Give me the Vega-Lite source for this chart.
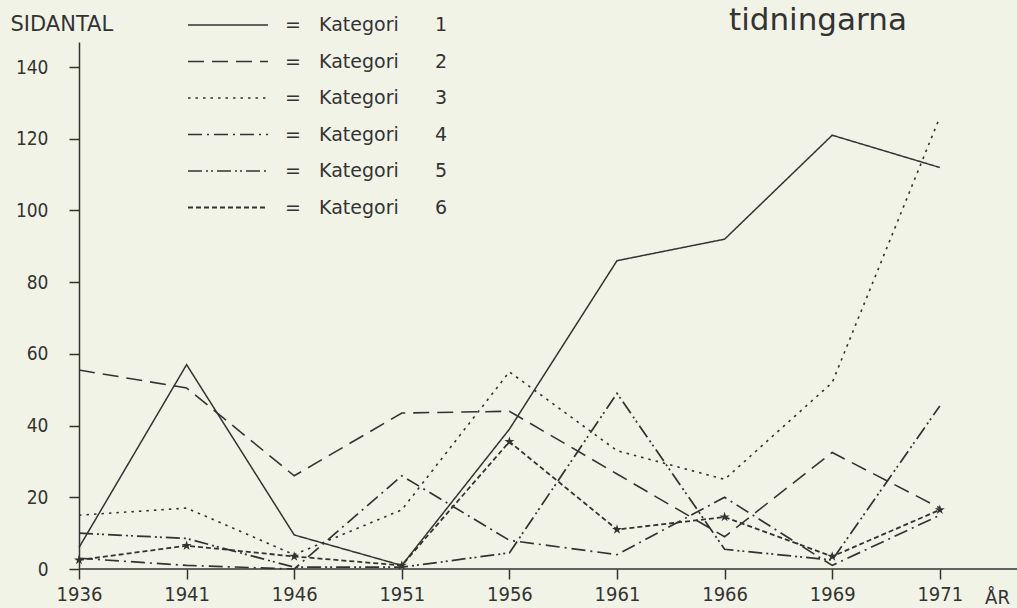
{
  "$schema": "https://vega.github.io/schema/vega-lite/v6.json",
  "width": 938,
  "height": 527,
  "autosize": {"type": "none"},
  "padding": {"left": 79, "top": 42, "right": 0, "bottom": 39},
  "background": "#f2f3e7",
  "config": {"view": {"stroke": null}, "font": "DejaVu Sans"},
  "title": {"text": "tidningarna", "anchor": "start", "dx": 719, "dy": 34, "fontSize": 31, "fontWeight": "normal", "color": "#333333", "font": "DejaVu Sans"},
  "data": {"values": [
    {"year": "1936", "kategori": "1", "sidor": 6},
    {"year": "1941", "kategori": "1", "sidor": 57},
    {"year": "1946", "kategori": "1", "sidor": 9.5},
    {"year": "1951", "kategori": "1", "sidor": 1},
    {"year": "1956", "kategori": "1", "sidor": 39},
    {"year": "1961", "kategori": "1", "sidor": 86},
    {"year": "1966", "kategori": "1", "sidor": 92},
    {"year": "1969", "kategori": "1", "sidor": 121},
    {"year": "1971", "kategori": "1", "sidor": 112},
    {"year": "1936", "kategori": "2", "sidor": 55.5},
    {"year": "1941", "kategori": "2", "sidor": 50.5},
    {"year": "1946", "kategori": "2", "sidor": 26},
    {"year": "1951", "kategori": "2", "sidor": 43.5},
    {"year": "1956", "kategori": "2", "sidor": 44},
    {"year": "1961", "kategori": "2", "sidor": 26.5},
    {"year": "1966", "kategori": "2", "sidor": 9},
    {"year": "1969", "kategori": "2", "sidor": 32.5},
    {"year": "1971", "kategori": "2", "sidor": 17},
    {"year": "1936", "kategori": "3", "sidor": 15},
    {"year": "1941", "kategori": "3", "sidor": 17},
    {"year": "1946", "kategori": "3", "sidor": 4},
    {"year": "1951", "kategori": "3", "sidor": 16.5},
    {"year": "1956", "kategori": "3", "sidor": 55},
    {"year": "1961", "kategori": "3", "sidor": 33},
    {"year": "1966", "kategori": "3", "sidor": 25},
    {"year": "1969", "kategori": "3", "sidor": 52},
    {"year": "1971", "kategori": "3", "sidor": 126},
    {"year": "1936", "kategori": "4", "sidor": 3},
    {"year": "1941", "kategori": "4", "sidor": 1},
    {"year": "1946", "kategori": "4", "sidor": 0},
    {"year": "1951", "kategori": "4", "sidor": 26},
    {"year": "1956", "kategori": "4", "sidor": 8},
    {"year": "1961", "kategori": "4", "sidor": 4},
    {"year": "1966", "kategori": "4", "sidor": 20},
    {"year": "1969", "kategori": "4", "sidor": 1},
    {"year": "1971", "kategori": "4", "sidor": 15},
    {"year": "1936", "kategori": "5", "sidor": 10},
    {"year": "1941", "kategori": "5", "sidor": 8.5},
    {"year": "1946", "kategori": "5", "sidor": 0.5},
    {"year": "1951", "kategori": "5", "sidor": 0.5},
    {"year": "1956", "kategori": "5", "sidor": 4.5},
    {"year": "1961", "kategori": "5", "sidor": 49},
    {"year": "1966", "kategori": "5", "sidor": 5.5},
    {"year": "1969", "kategori": "5", "sidor": 2.5},
    {"year": "1971", "kategori": "5", "sidor": 45.5},
    {"year": "1936", "kategori": "6", "sidor": 2.5},
    {"year": "1941", "kategori": "6", "sidor": 6.5},
    {"year": "1946", "kategori": "6", "sidor": 3.5},
    {"year": "1951", "kategori": "6", "sidor": 1},
    {"year": "1956", "kategori": "6", "sidor": 35.5},
    {"year": "1961", "kategori": "6", "sidor": 11},
    {"year": "1966", "kategori": "6", "sidor": 14.5},
    {"year": "1969", "kategori": "6", "sidor": 3.5},
    {"year": "1971", "kategori": "6", "sidor": 16.5}
  ]},
  "layer": [
    {
      "mark": {"type": "line", "color": "#333333"},
      "encoding": {
        "x": {"field": "year", "type": "ordinal", "scale": {"type": "point", "padding": 0.3587, "align": 0},
          "axis": {"domain": false, "tickSize": 10, "tickWidth": 1.5, "tickColor": "#333333", "labelPadding": 5, "labelAngle": 0, "labelFontSize": 20, "labelFont": "Liberation Sans Narrow, DejaVu Sans Condensed, Liberation Sans", "labelColor": "#333333",
            "title": "ÅR", "titleX": 918, "titleY": 34, "titleBaseline": "alphabetic", "titleAlign": "center", "titleFontSize": 20, "titleFontWeight": "normal", "titleFont": "Liberation Sans Narrow, DejaVu Sans Condensed, Liberation Sans", "titleColor": "#333333"}},
        "y": {"field": "sidor", "type": "quantitative", "scale": {"domain": [0, 147], "nice": false, "zero": false},
          "axis": {"values": [0, 10, 20, 30, 40, 50, 60, 70, 80, 90, 100, 110, 120, 130, 140], "labelExpr": "datum.value % 20 === 0 ? datum.label : ''", "grid": false, "tickSize": 10, "tickWidth": 1.5, "tickColor": "#333333", "domainColor": "#333333", "domainWidth": 1.5, "labelPadding": 21, "labelFontSize": 19, "labelFont": "Liberation Sans Narrow, DejaVu Sans Condensed, Liberation Sans", "labelColor": "#333333",
            "title": "SIDANTAL", "titleAngle": 0, "titleX": -69, "titleY": -12, "titleAlign": "left", "titleBaseline": "alphabetic", "titleFontSize": 21, "titleFontWeight": "normal", "titleColor": "#333333", "titleFont": "DejaVu Sans"}},
        "strokeDash": {"field": "kategori", "type": "nominal",
          "scale": {"domain": ["1", "2", "3", "4", "5", "6"], "range": [[1, 0], [16, 8], [2.5, 5], [14, 5, 2, 5], [14, 4, 2, 3, 2, 4], [5, 3]]},
          "legend": {"title": null, "orient": "none", "legendX": 108, "legendY": -35, "symbolType": "stroke", "symbolSize": 6400, "clipHeight": 36, "symbolStrokeColor": "#333333", "labelExpr": "'=\u00a0\u00a0\u00a0Kategori\u00a0\u00a0\u00a0\u00a0\u00a0\u00a0' + datum.label", "labelFontSize": 19, "labelFont": "DejaVu Sans", "labelColor": "#333333", "labelOffset": 16, "labelLimit": 400, "rowPadding": 0.5}},
        "strokeWidth": {"field": "kategori", "type": "nominal",
          "scale": {"domain": ["1", "2", "3", "4", "5", "6"], "range": [1.5, 1.8, 2.8, 1.8, 2.8, 4.5]},
          "legend": {"title": null, "orient": "none", "legendX": 108, "legendY": -35, "symbolType": "stroke", "symbolSize": 6400, "clipHeight": 36, "symbolStrokeColor": "#333333", "labelExpr": "'=\u00a0\u00a0\u00a0Kategori\u00a0\u00a0\u00a0\u00a0\u00a0\u00a0' + datum.label", "labelFontSize": 19, "labelFont": "DejaVu Sans", "labelColor": "#333333", "labelOffset": 16, "labelLimit": 400, "rowPadding": 0.5}}
      }
    },
    {
      "transform": [{"filter": "datum.kategori === '6'"}],
      "mark": {"type": "point", "shape": "M0,-1L0.2245,-0.309L0.951,-0.309L0.3633,0.118L0.5878,0.809L0,0.382L-0.5878,0.809L-0.3633,0.118L-0.951,-0.309L-0.2245,-0.309Z", "filled": true, "size": 110, "color": "#333333", "opacity": 1},
      "encoding": {
        "x": {"field": "year", "type": "ordinal"},
        "y": {"field": "sidor", "type": "quantitative"}
      }
    },
    {
      "data": {"values": [{"nul": 0}]},
      "mark": {"type": "rule", "color": "#333333", "strokeWidth": 1.5},
      "encoding": {"y": {"field": "nul", "type": "quantitative"}}
    }
  ]
}
